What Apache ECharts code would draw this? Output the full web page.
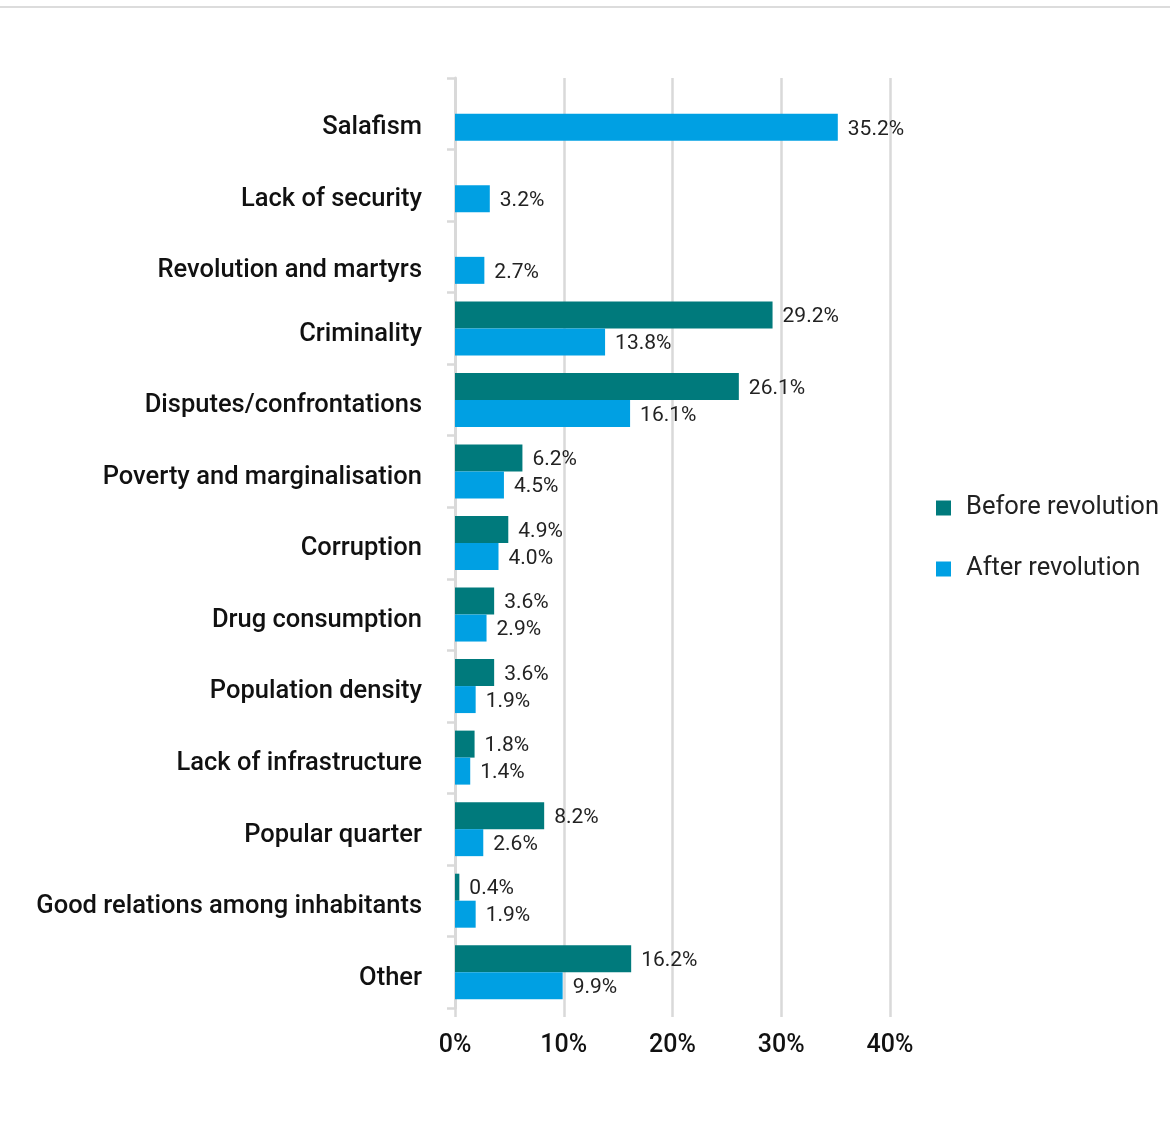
<!DOCTYPE html>
<html>
<head>
<meta charset="utf-8">
<script src="https://cdn.jsdelivr.net/npm/echarts@6/dist/echarts.min.js"></script>
<style>
  html, body { margin: 0; padding: 0; background: #ffffff; }
  #chart { width: 1170px; height: 1124px; }
</style>
</head>
<body>
<div id="chart"></div>
<script>
// Perceived causes of violence in the neighbourhood, before and after the revolution
const categories = [
  'Salafism',
  'Lack of security',
  'Revolution and martyrs',
  'Criminality',
  'Disputes/confrontations',
  'Poverty and marginalisation',
  'Corruption',
  'Drug consumption',
  'Population density',
  'Lack of infrastructure',
  'Popular quarter',
  'Good relations among inhabitants',
  'Other'
];
const beforeRevolution = [null, null, null, 29.2, 26.1, 6.2, 4.9, 3.6, 3.6, 1.8, 8.2, 0.4, 16.2];
const afterRevolution = [35.2, 3.2, 2.7, 13.8, 16.1, 4.5, 4.0, 2.9, 1.9, 1.4, 2.6, 1.9, 9.9];
const xTicks = [0, 10, 20, 30, 40];

const FONT = 'Roboto, "Noto Sans", sans-serif';
const GRID_GREY = '#d9d9d9';
const TEAL = '#007a7c';
const BLUE = '#00a0e3';

const chart = echarts.init(document.getElementById('chart'), null, { renderer: 'canvas' });

const valueLabel = {
  show: true,
  position: 'right',
  distance: 10,
  offset: [0, 2],
  fontFamily: FONT,
  fontSize: 21,
  color: '#222222',
  formatter: p => p.value == null ? '' : p.value.toFixed(1) + '%'
};

const catText = { fontFamily: FONT, fontSize: 25.5, fontWeight: 500, color: '#111111' };

chart.setOption({
  backgroundColor: '#ffffff',
  animation: false,
  graphic: [{
    type: 'line',
    shape: { x1: 0, y1: 7, x2: 1170, y2: 7 },
    style: { stroke: '#dcdcdc', lineWidth: 2 }
  }],
  legend: {
    orient: 'vertical',
    left: 931,
    top: 490,
    itemWidth: 15,
    itemHeight: 15,
    itemGap: 35,
    icon: 'rect',
    textStyle: { fontFamily: FONT, fontSize: 25.5, lineHeight: 25, color: '#222222', padding: [0, 0, 0, 10] },
    data: ['Before revolution', 'After revolution']
  },
  grid: { left: 455, right: 280, top: 78, bottom: 116, containLabel: false },
  xAxis: {
    type: 'value',
    min: xTicks[0],
    max: xTicks[xTicks.length - 1],
    interval: xTicks[1] - xTicks[0],
    axisLine: { show: false },
    axisTick: { show: true, length: 9, lineStyle: { color: GRID_GREY, width: 2.5 } },
    splitLine: { show: true, lineStyle: { color: GRID_GREY, width: 2.5 } },
    axisLabel: {
      margin: 25,
      fontFamily: FONT,
      fontSize: 25,
      fontWeight: 500,
      color: '#111111',
      formatter: v => v + '%'
    }
  },
  yAxis: {
    type: 'category',
    inverse: true,
    data: categories,
    axisLine: { show: true, lineStyle: { color: GRID_GREY, width: 3 } },
    axisTick: { show: true, length: 8, lineStyle: { color: GRID_GREY, width: 2.5 } },
    splitLine: { show: false },
    axisLabel: Object.assign({
      margin: 33,
      formatter: (value, idx) => (beforeRevolution[idx] == null ? '{low|' : '{std|') + value + '}',
      rich: {
        std: Object.assign({ padding: [12, 0, 0, 0] }, catText),
        low: Object.assign({ padding: [28, 0, 0, 0] }, catText)
      }
    }, catText)
  },
  series: [
    {
      name: 'Before revolution',
      type: 'bar',
      data: beforeRevolution,
      barWidth: 27,
      barGap: '0%',
      itemStyle: { color: TEAL },
      label: valueLabel
    },
    {
      name: 'After revolution',
      type: 'bar',
      data: afterRevolution,
      barWidth: 27,
      barGap: '0%',
      itemStyle: { color: BLUE },
      label: valueLabel
    }
  ]
});
</script>
</body>
</html>
